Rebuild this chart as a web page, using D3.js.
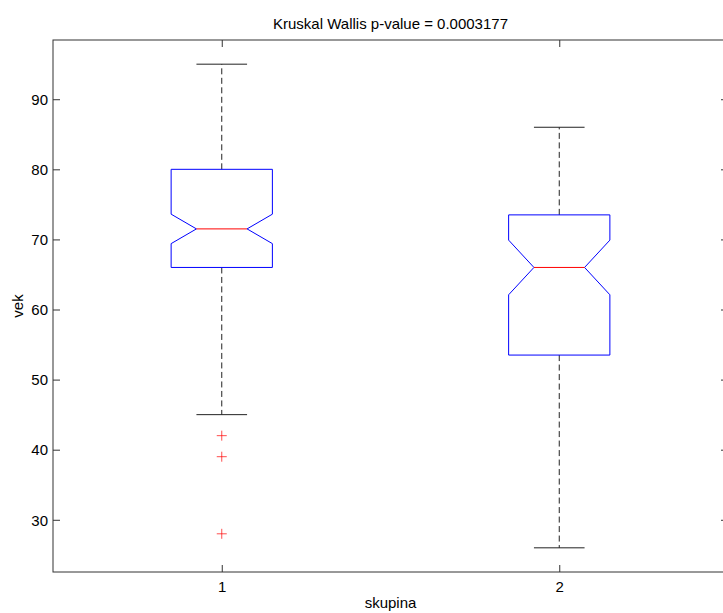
<!DOCTYPE html>
<html>
<head>
<meta charset="utf-8">
<script src="https://cdn.jsdelivr.net/npm/d3@7"></script>
<style>
  html, body { margin: 0; padding: 0; background: #fff; }
  svg { display: block; font-family: "Liberation Sans", Arial, Helvetica, sans-serif; }
</style>
</head>
<body>
<svg id="chart" width="723" height="613"></svg>
<script>
// Group labels and box statistics (age by group)
const categories   = ["1", "2"];
const whiskerLow   = [45, 26];
const q1           = [66, 53.5];
const notchLow     = [69.4, 62.1];
const median       = [71.5, 66];
const notchHigh    = [73.6, 69.9];
const q3           = [80, 73.5];
const whiskerHigh  = [95, 86];
const outliers     = [[42, 39, 28], []];
const yTicks       = [30, 40, 50, 60, 70, 80, 90];
const yDomain      = [22.55, 98.45];
const titleText    = "Kruskal Wallis p-value = 0.0003177";
const xLabelText   = "skupina";
const yLabelText   = "vek";

const svg = d3.select("#chart");
const plotLeft = 53, plotRight = 728, plotTop = 40, plotBottom = 572;

const x = d3.scaleLinear().domain([0.5, categories.length + 0.5]).range([plotLeft, plotRight]);
const y = d3.scaleLinear().domain(yDomain).range([plotBottom, plotTop]);
const unit = x(1) - x(0);
const hw = 0.15 * unit;      // box half width
const nw = 0.075 * unit;     // notch / cap half width
const tickLen = 7;
const axisColor = "#333";

// Plot frame
svg.append("rect")
  .attr("x", plotLeft).attr("y", plotTop)
  .attr("width", plotRight - plotLeft).attr("height", plotBottom - plotTop)
  .attr("fill", "none").attr("stroke", axisColor).attr("stroke-width", 1);

// Y axis (left, ticks inward) and mirrored ticks on the right
const yAxisL = d3.axisLeft(y).tickValues(yTicks).tickSizeInner(-tickLen).tickSizeOuter(0).tickPadding(5);
const gyl = svg.append("g").attr("transform", `translate(${plotLeft},0)`).call(yAxisL);
const yAxisR = d3.axisRight(y).tickValues(yTicks).tickSizeInner(-tickLen).tickSizeOuter(0).tickFormat("");
const gyr = svg.append("g").attr("transform", `translate(${plotRight},0)`).call(yAxisR);

// X axis (bottom, ticks inward) and mirrored ticks on the top
const xAxisB = d3.axisBottom(x).tickValues(d3.range(1, categories.length + 1))
  .tickFormat((d, i) => categories[i]).tickSizeInner(-tickLen).tickSizeOuter(0).tickPadding(9);
const gxb = svg.append("g").attr("transform", `translate(0,${plotBottom})`).call(xAxisB);
const xAxisT = d3.axisTop(x).tickValues(d3.range(1, categories.length + 1))
  .tickSizeInner(-tickLen).tickSizeOuter(0).tickFormat("");
const gxt = svg.append("g").attr("transform", `translate(0,${plotTop})`).call(xAxisT);

[gyl, gyr, gxb, gxt].forEach(g => {
  g.select(".domain").remove();
  g.selectAll(".tick line").attr("stroke", axisColor);
  g.selectAll(".tick text").attr("fill", "#000").style("font-size", "15px")
    .style("font-family", "'Liberation Sans', Arial, sans-serif");
});
gyl.selectAll(".tick text").attr("dy", "0.35em");
gxb.selectAll(".tick text").attr("dy", "0.71em");

// Boxes
const plot = svg.append("g");
categories.forEach((c, i) => {
  const cx = x(i + 1);

  // Whiskers (dashed) and caps
  plot.append("line")
    .attr("x1", cx).attr("x2", cx).attr("y1", y(q3[i])).attr("y2", y(whiskerHigh[i]))
    .attr("stroke", "#222").attr("stroke-dasharray", "6,3.5");
  plot.append("line")
    .attr("x1", cx).attr("x2", cx).attr("y1", y(q1[i])).attr("y2", y(whiskerLow[i]))
    .attr("stroke", "#222").attr("stroke-dasharray", "6,3.5");
  [whiskerHigh[i], whiskerLow[i]].forEach(v => {
    plot.append("line")
      .attr("x1", cx - nw).attr("x2", cx + nw).attr("y1", y(v)).attr("y2", y(v))
      .attr("stroke", "#222");
  });

  // Notched box outline
  const pts = [
    [cx - hw, y(q1[i])], [cx - hw, y(notchLow[i])], [cx - nw, y(median[i])],
    [cx - hw, y(notchHigh[i])], [cx - hw, y(q3[i])], [cx + hw, y(q3[i])],
    [cx + hw, y(notchHigh[i])], [cx + nw, y(median[i])], [cx + hw, y(notchLow[i])],
    [cx + hw, y(q1[i])]
  ];
  plot.append("path")
    .attr("d", d3.line()(pts) + "Z")
    .attr("fill", "none").attr("stroke", "#0000ff").attr("stroke-width", 1);

  // Median
  plot.append("line")
    .attr("x1", cx - nw).attr("x2", cx + nw).attr("y1", y(median[i])).attr("y2", y(median[i]))
    .attr("stroke", "#ff0000");

  // Outliers as plus markers
  outliers[i].forEach(v => {
    const py = y(v), s = 5;
    plot.append("path")
      .attr("d", `M${cx - s},${py}H${cx + s}M${cx},${py - s}V${py + s}`)
      .attr("stroke", "#ff0000").attr("stroke-opacity", 0.7).attr("fill", "none");
  });
});

// Title and axis labels
svg.append("text")
  .attr("x", (plotLeft + plotRight) / 2).attr("y", 28.5)
  .attr("text-anchor", "middle").style("font-size", "15px").attr("fill", "#000")
  .text(titleText);
svg.append("text")
  .attr("x", (plotLeft + plotRight) / 2).attr("y", 608)
  .attr("text-anchor", "middle").style("font-size", "15px").attr("fill", "#000")
  .text(xLabelText);
svg.append("text")
  .attr("transform", `translate(22.5,${(plotTop + plotBottom) / 2}) rotate(-90)`)
  .attr("text-anchor", "middle").style("font-size", "15px").attr("fill", "#000")
  .text(yLabelText);
</script>
</body>
</html>
